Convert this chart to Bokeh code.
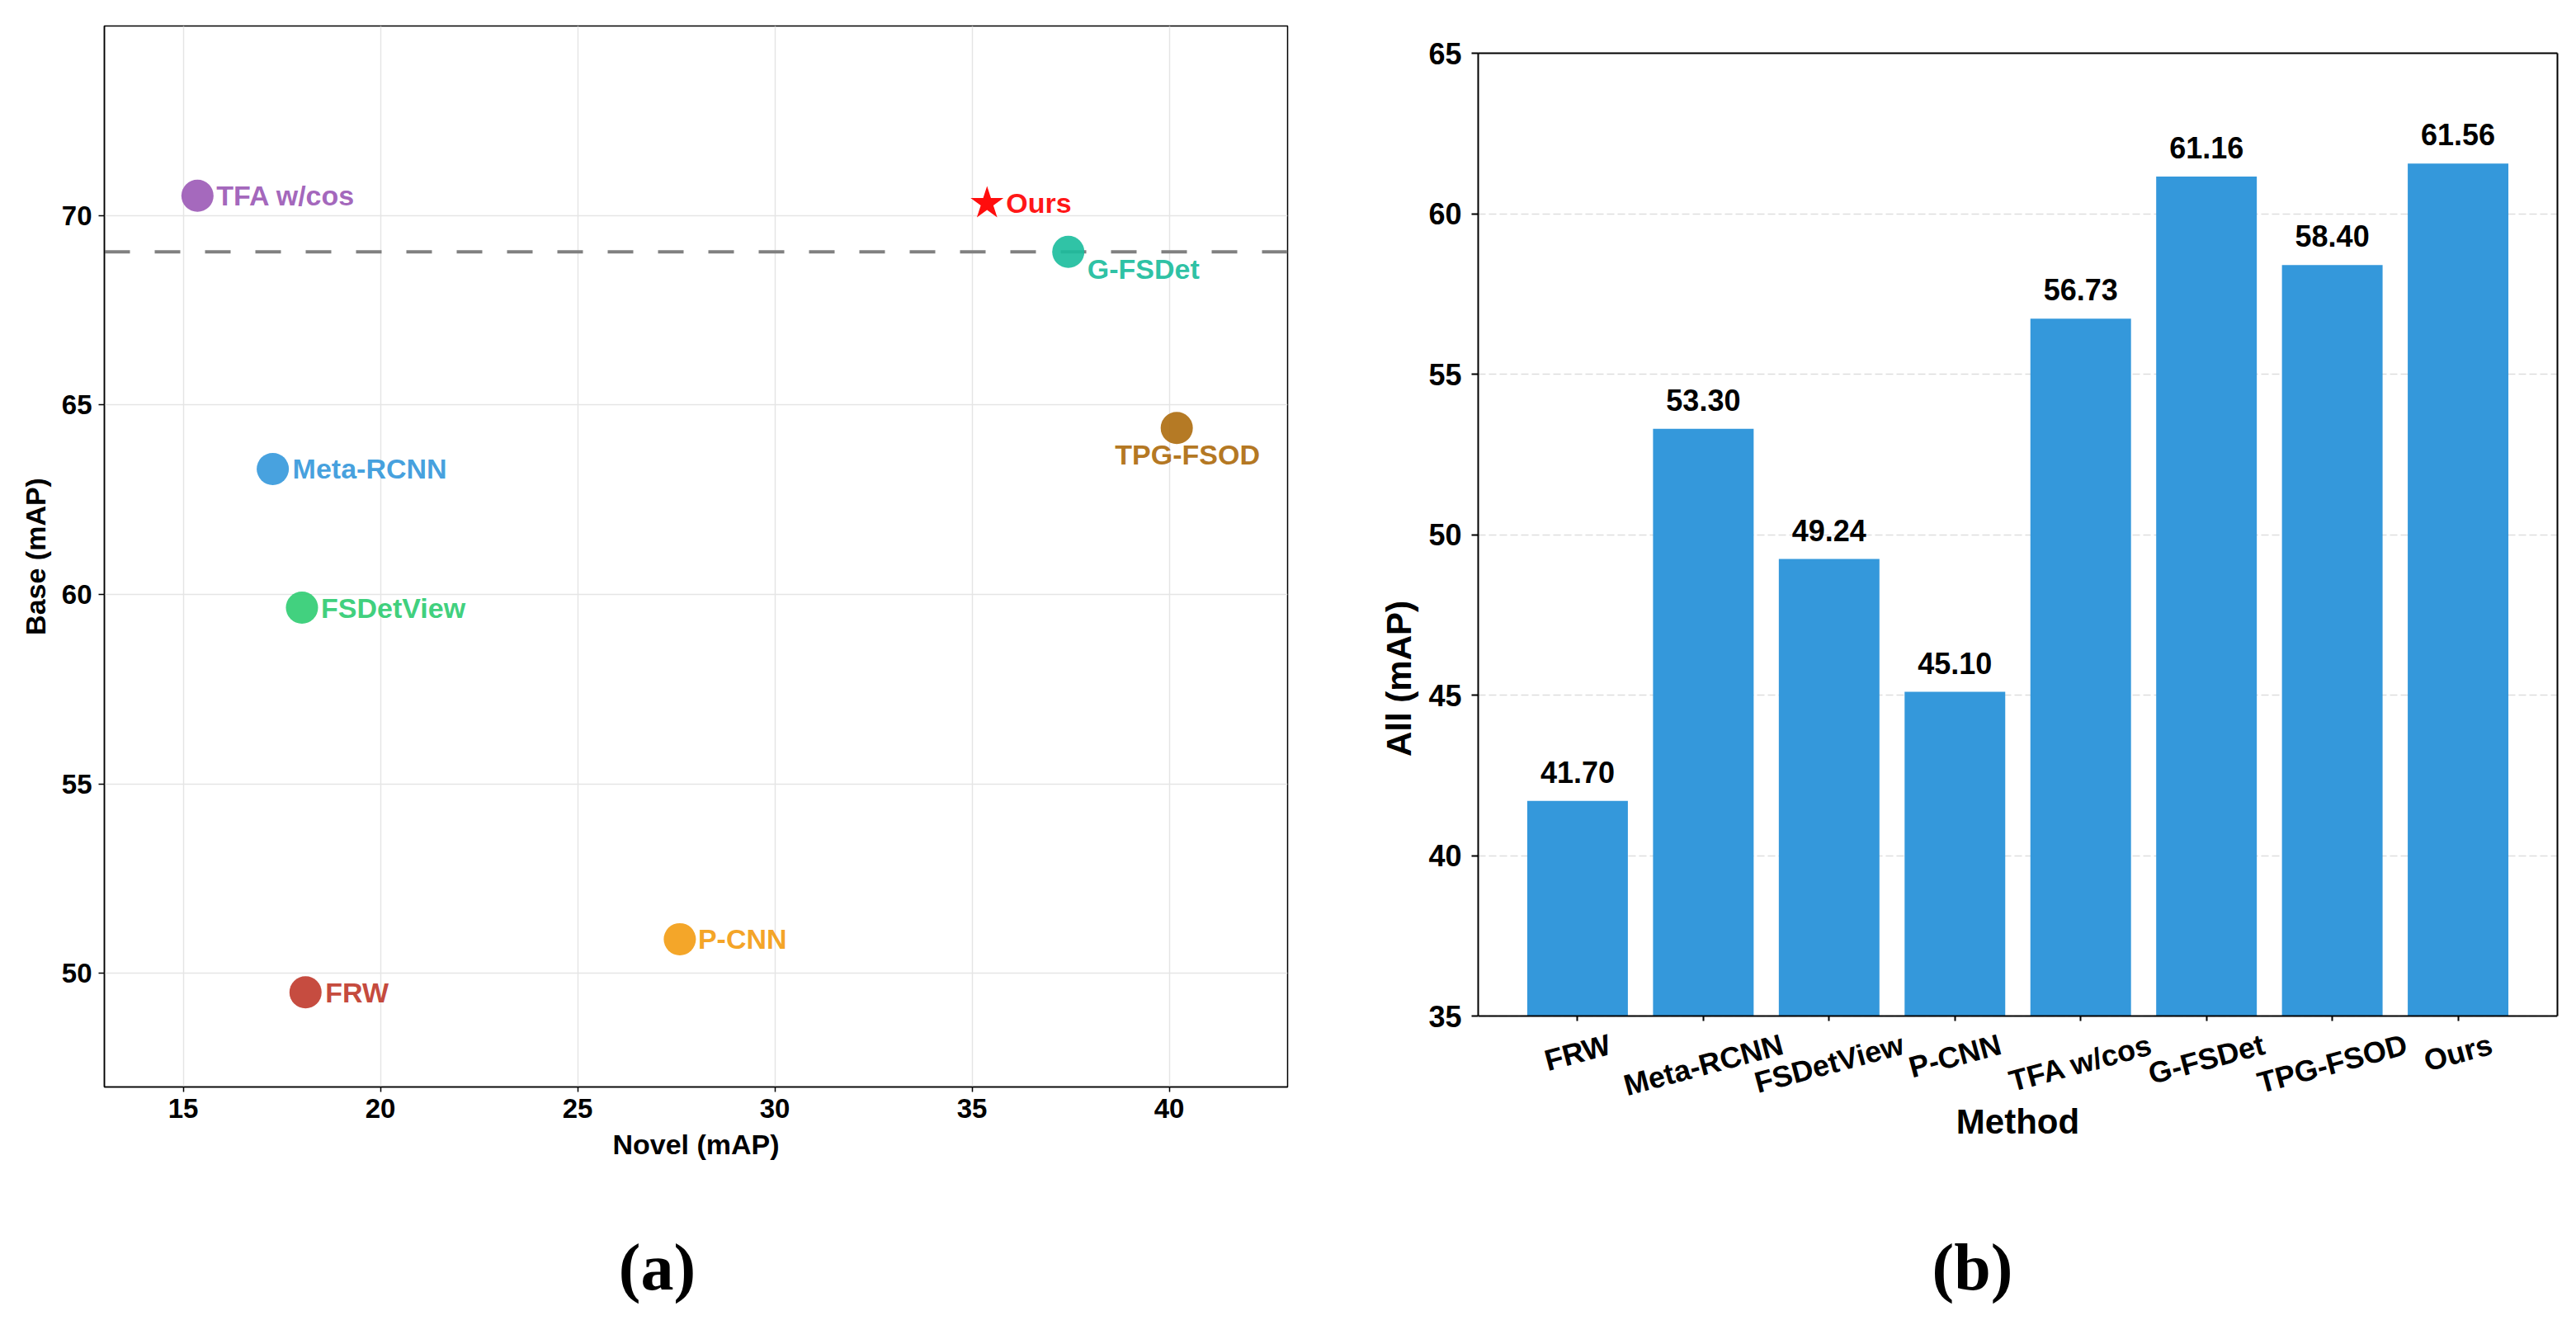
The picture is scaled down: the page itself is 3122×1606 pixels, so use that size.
import math
from bokeh.plotting import figure
from bokeh.models import Range1d, FixedTicker, Span, ColumnDataSource, LinearAxis
from bokeh.layouts import row, column
from bokeh.embed import file_html
from bokeh.resources import INLINE
from bokeh.core.properties import value

# ---------------- data ----------------
methods = ["FRW", "Meta-RCNN", "FSDetView", "P-CNN", "TFA w/cos", "G-FSDet", "TPG-FSOD", "Ours"]
novel_map = [18.10, 17.27, 18.01, 27.59, 15.36, 37.44, 40.19, 35.38]
base_map = [49.50, 63.31, 59.65, 50.90, 70.52, 69.04, 64.39, 70.32]
all_map = [41.70, 53.30, 49.24, 45.10, 56.73, 61.16, 58.40, 61.56]
x_ticks_a = [15, 20, 25, 30, 35, 40]
y_ticks_a = [50, 55, 60, 65, 70]
y_ticks_b = [35, 40, 45, 50, 55, 60, 65]

# ---------------- styles ----------------
FONT = "Liberation Sans"
SERIF = "Liberation Serif"
point_colors = ["#c0392b", "#3498db", "#2ecc71", "#f39c12", "#9b59b6", "#1abc9c", "#ad6b0d", "#ff0000"]
lab_dx = [24, 24, 23, 22, 23, 23, 13, 23]
lab_dy = [0, 0, 0, 0, 0, 21, 32, 0]
lab_align = ["left", "left", "left", "left", "left", "left", "center", "left"]
bar_color = "#3498db"
n = len(methods)
TOTAL_H = 1600


def style_axis(ax, lw, tick_size, label_size):
    ax.axis_line_color = "black"
    ax.axis_line_width = lw
    ax.major_tick_line_color = "black"
    ax.major_tick_line_width = lw
    ax.major_tick_in = 0
    ax.minor_tick_line_color = None
    ax.major_label_text_font = FONT
    ax.major_label_text_font_style = "bold"
    ax.major_label_text_font_size = tick_size
    ax.major_label_text_color = "black"
    ax.axis_label_text_font = FONT
    ax.axis_label_text_font_style = "bold"
    ax.axis_label_text_font_size = label_size
    ax.axis_label_text_color = "black"


# ---------------- panel (a) ----------------
XA0, XA1, YA0, YA1 = 13, 43, 47, 75
A_LEFT, A_RIGHT, A_TOP, A_FH, A_BOT = 126, 70, 31, 1286, 115
A_W = 1630
p1 = figure(width=A_W, height=A_TOP + A_FH + A_BOT,
            x_range=Range1d(XA0, XA1), y_range=Range1d(YA0, YA1),
            output_backend="svg", toolbar_location=None,
            min_border_left=A_LEFT, min_border_right=A_RIGHT,
            min_border_top=A_TOP, min_border_bottom=A_BOT)
p1.background_fill_color = "white"
p1.border_fill_color = "white"
p1.outline_line_color = "black"
p1.outline_line_width = 1.5
p1.xaxis.ticker = FixedTicker(ticks=x_ticks_a)
p1.yaxis.ticker = FixedTicker(ticks=y_ticks_a)
style_axis(p1.xaxis[0], 1.5, "33px", "34px")
style_axis(p1.yaxis[0], 1.5, "33px", "34px")
p1.xaxis.major_tick_out = 6
p1.yaxis.major_tick_out = 7
p1.xaxis.axis_label = "Novel (mAP)"
p1.yaxis.axis_label = "Base (mAP)"
p1.xaxis.major_label_standoff = 8
p1.yaxis.major_label_standoff = 8
p1.xaxis.axis_label_standoff = 10
p1.yaxis.axis_label_standoff = 10
p1.grid.grid_line_color = "#e5e5e5"
p1.grid.grid_line_width = 1.5

p1.add_layout(Span(location=base_map[5], dimension="width", line_color="#808080",
                   line_width=4, line_dash="31 30", level="underlay"))

circ = ColumnDataSource(dict(x=novel_map[:n - 1], y=base_map[:n - 1], c=point_colors[:n - 1]))
p1.scatter("x", "y", source=circ, marker="circle", size=39, fill_color="c",
           fill_alpha=0.9, line_color=None)
p1.scatter([novel_map[-1]], [base_map[-1]], marker="star", size=42,
           fill_color=point_colors[-1], fill_alpha=0.95, line_color=None)
for i in range(n):
    p1.text([novel_map[i]], [base_map[i]], text=[methods[i]],
            x_offset=lab_dx[i], y_offset=lab_dy[i],
            text_align=lab_align[i], text_baseline="middle",
            text_color=point_colors[i], text_alpha=0.92,
            text_font=value(FONT), text_font_style="bold", text_font_size="34px")

# caption strip under panel (a): y = pixels below the frame bottom
A_SUB_H = TOTAL_H - (A_TOP + A_FH + A_BOT)
p1b = figure(width=A_W, height=A_SUB_H, x_range=p1.x_range,
             y_range=Range1d(A_BOT + A_SUB_H, A_BOT),
             output_backend="svg", toolbar_location=None,
             x_axis_location=None, y_axis_location=None,
             min_border_left=A_LEFT, min_border_right=A_RIGHT,
             min_border_top=0, min_border_bottom=0)
p1b.outline_line_color = None
p1b.background_fill_color = "white"
p1b.border_fill_color = "white"
p1b.grid.visible = False
pxu_ax = (A_W - A_LEFT - A_RIGHT) / (XA1 - XA0)
p1b.text([XA0 + 670 / pxu_ax], [218], text=["(a)"], text_align="center",
         text_baseline="middle", text_color="black",
         text_font=value(SERIF), text_font_style="bold", text_font_size="80px")

# ---------------- panel (b) ----------------
# the frame runs down to the page bottom; the plotting box is 35..65,
# with axes drawn at fixed locations / bounds
XB0, XB1, YB0, YB1 = -0.79, 7.79, 35, 65
B_LEFT, B_RIGHT, B_TOP, B_BOX_H, B_BOT = 161, 7, 64, 1167, 20
B_W = 1476
pxu_by = B_BOX_H / (YB1 - YB0)
B_FH = TOTAL_H - B_TOP - B_BOT
y_low = YB1 - B_FH / pxu_by
p2 = figure(width=B_W, height=TOTAL_H,
            x_range=Range1d(XB0, XB1), y_range=Range1d(y_low, YB1),
            output_backend="svg", toolbar_location=None,
            min_border_left=B_LEFT, min_border_right=B_RIGHT,
            min_border_top=B_TOP, min_border_bottom=B_BOT)
p2.background_fill_color = "white"
p2.border_fill_color = "white"
p2.outline_line_color = None
idx = list(range(n))
p2.vbar(x=idx, top=all_map, bottom=YB0, width=0.8, fill_color=bar_color, line_color=None)
p2.xgrid.grid_line_color = None
p2.ygrid.grid_line_color = "#dddddd"
p2.ygrid.grid_line_width = 1.5
p2.ygrid.grid_line_dash = "9 4"
p2.yaxis.ticker = FixedTicker(ticks=y_ticks_b)
p2.yaxis.bounds = (YB0, YB1)
p2.xaxis.ticker = FixedTicker(ticks=idx)
p2.xaxis.fixed_location = YB0
style_axis(p2.xaxis[0], 2, "1px", "42px")
style_axis(p2.yaxis[0], 2, "36px", "42px")
p2.xaxis.major_label_overrides = {i: "" for i in idx}
p2.xaxis.major_label_standoff = 0
p2.yaxis.major_tick_out = 8
p2.xaxis.major_tick_out = 6
p2.yaxis.major_label_standoff = 12
p2.yaxis.axis_label = "All (mAP)"
p2.yaxis.axis_label_standoff = 9

# top and right edges of the box
top_ax = LinearAxis(ticker=FixedTicker(ticks=[]), axis_line_width=2, axis_line_color="black",
                    major_tick_line_color=None, minor_tick_line_color=None)
right_ax = LinearAxis(ticker=FixedTicker(ticks=[]), axis_line_width=2, axis_line_color="black",
                      major_tick_line_color=None, minor_tick_line_color=None,
                      bounds=(YB0, YB1))
p2.add_layout(top_ax, "above")
p2.add_layout(right_ax, "right")

p2.text(x=idx, y=all_map, text=[f"{v:.2f}" for v in all_map], y_offset=-22,
        text_align="center", text_baseline="bottom", text_color="black",
        text_font=value(FONT), text_font_style="bold", text_font_size="36px")

# rotated category labels, centred under their ticks
W = {"F": 611, "R": 722, "W": 944, "M": 833, "e": 556, "t": 333, "a": 556, "-": 333,
     "C": 722, "N": 722, "S": 667, "D": 722, "V": 667, "i": 278, "w": 778, "P": 667,
     " ": 278, "T": 611, "A": 722, "/": 278, "c": 556, "o": 611, "s": 556, "G": 778,
     "O": 778, "u": 611, "r": 389}
ang = math.radians(15)
lab_y = []
for m in methods:
    w = sum(W.get(ch, 600) for ch in m) / 1000 * 36
    bh = w * math.sin(ang) + 25.8 * math.cos(ang)
    lab_y.append(YB0 - (21 + bh / 2) / pxu_by)
p2.text(x=idx, y=lab_y, text=methods, angle=15, angle_units="deg",
        text_align="center", text_baseline="middle", text_color="black",
        text_font=value(FONT), text_font_style="bold", text_font_size="36px")
p2.text([(n - 1) / 2], [YB0 - 128 / pxu_by], text=["Method"], text_align="center",
        text_baseline="middle", text_color="black",
        text_font=value(FONT), text_font_style="bold", text_font_size="42px")
pxu_bx = (B_W - B_LEFT - B_RIGHT) / (XB1 - XB0)
p2.text([XB0 + 599 / pxu_bx], [YB0 - 304 / pxu_by], text=["(b)"], text_align="center",
        text_baseline="middle", text_color="black",
        text_font=value(SERIF), text_font_style="bold", text_font_size="80px")

layout = row(column(p1, p1b), column(p2))
open("out.html", "w").write(file_html(layout, INLINE))
